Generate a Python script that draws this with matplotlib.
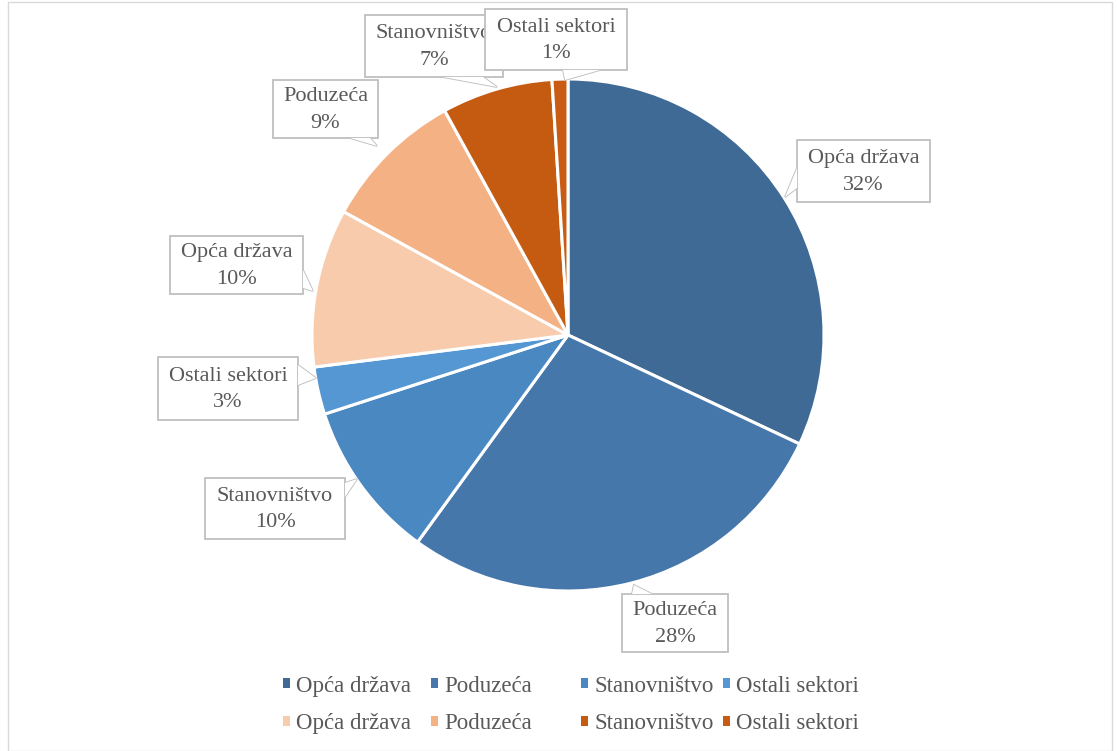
import matplotlib
matplotlib.use('Agg')
import matplotlib.pyplot as plt
from matplotlib.patches import Rectangle, Polygon

labels = ['Opća država', 'Poduzeća', 'Stanovništvo', 'Ostali sektori',
          'Opća država', 'Poduzeća', 'Stanovništvo', 'Ostali sektori']
values = [32, 28, 10, 3, 10, 9, 7, 1]
colors = ['#3E6A95', '#4677AB', '#4A88C2', '#5597D3',
          '#F8CBAD', '#F4B183', '#C55A11', '#C85C14']

# callout layout in reference pixels: box (x0, y0, x1, y1), pointer base a, b and tip
boxes = [(797, 140, 930, 202), (622, 594, 728, 652), (205, 478, 345, 539),
         (158, 357, 298, 420), (170, 236, 303, 294), (273, 80, 378, 138),
         (365, 15, 503, 77), (485, 9, 627, 70)]
pointers = [((797, 168), (797, 188), (785, 197)),
            ((632, 594), (652, 594), (634, 585)),
            ((345, 483), (345, 497), (357, 479)),
            ((298, 365), (298, 385), (316, 378)),
            ((303, 270), (303, 288), (313, 291)),
            ((350, 138), (370, 138), (377, 146)),
            ((443, 77), (483, 77), (497, 87)),
            ((563, 70), (600, 70), (565, 80))]

W, H = 1117, 751
cx, cy, R = 568, 335, 256

plt.rcParams['font.family'] = ['Liberation Serif', 'DejaVu Serif']
txt = '#595959'
edge = '#bfbfbf'

fig = plt.figure(figsize=(W / 100, H / 100), dpi=100)
ax = fig.add_axes([(cx - R) / W, (H - cy - R) / H, 2 * R / W, 2 * R / H])
wedges, _ = ax.pie(values, colors=colors, startangle=90, counterclock=False,
                   radius=1, wedgeprops=dict(edgecolor='white', linewidth=2.2))
ax.set_xlim(-1, 1)
ax.set_ylim(-1, 1)
ax.set_aspect('equal')
ax.axis('off')

# overlay in pixel coordinates for the callouts
ov = fig.add_axes([0, 0, 1, 1], facecolor='none')
ov.set_xlim(0, W)
ov.set_ylim(H, 0)
ov.axis('off')

for k, (lab, v, bx, pt) in enumerate(zip(labels, values, boxes, pointers)):
    z = 3 + 3 * k
    x0, y0, x1, y1 = bx
    ov.add_patch(Polygon(pt, closed=True, fc='white', ec=edge, lw=1.3, zorder=z))
    ov.add_patch(Rectangle((x0, y0), x1 - x0, y1 - y0, fc='white', ec=edge, lw=1.3, zorder=z + 1))
    ov.add_patch(Polygon(pt, closed=True, fc='white', ec='none', lw=0, zorder=z + 1.5))
    t = ov.text((x0 + x1) / 2, (y0 + y1) / 2 + 1, f'{lab}\n{v}%', ha='center', va='center',
                fontsize=16, color=txt, linespacing=1.55, zorder=z + 2)
    t.set_clip_path(Rectangle((x0, y0), x1 - x0, y1 - y0, transform=ov.transData))

# legend: four columns of two entries, like the reference
col_x = [283, 431, 581, 723]
for c, x in enumerate(col_x):
    leg = fig.legend([wedges[c], wedges[c + 4]], [labels[c], labels[c + 4]],
                     loc='center left', bbox_to_anchor=(x / W, 1 - 705 / H),
                     frameon=False, fontsize=16.5, handlelength=0.32, handleheight=0.32,
                     handletextpad=0.25, labelspacing=0.74, borderpad=0, borderaxespad=0)
    for t in leg.get_texts():
        t.set_color(txt)
    for h in leg.legend_handles:
        h.set_edgecolor('none')

fig.patches.append(Rectangle((8 / W, 0), 1104 / W, 1 - 1.5 / H, transform=fig.transFigure,
                             fill=False, ec='#d9d9d9', lw=1))

fig.savefig('out.png', dpi=100, facecolor='white')
